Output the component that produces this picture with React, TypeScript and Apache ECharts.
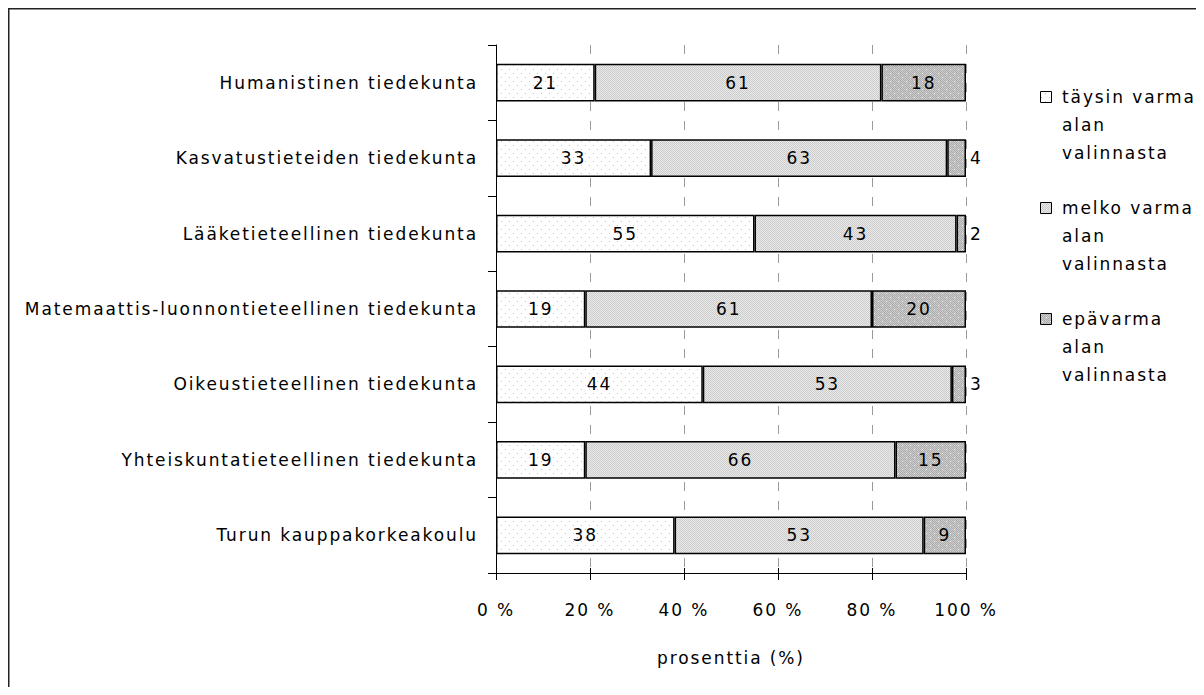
import React, { useEffect, useRef } from "react";
import * as echarts from "echarts";

const categories = [
  "Humanistinen tiedekunta",
  "Kasvatustieteiden tiedekunta",
  "Lääketieteellinen tiedekunta",
  "Matemaattis-luonnontieteellinen tiedekunta",
  "Oikeustieteellinen tiedekunta",
  "Yhteiskuntatieteellinen tiedekunta",
  "Turun kauppakorkeakoulu",
];
const seriesNames = [
  "täysin varma alan valinnasta",
  "melko varma alan valinnasta",
  "epävarma alan valinnasta",
];
const legendLines = [
  "täysin varma\nalan\nvalinnasta",
  "melko varma\nalan\nvalinnasta",
  "epävarma\nalan\nvalinnasta",
];
const taysinVarma = [21, 33, 55, 19, 44, 19, 38];
const melkoVarma = [61, 63, 43, 61, 53, 66, 53];
const epavarma = [18, 4, 2, 20, 3, 15, 9];
const xTicks = [0, 20, 40, 60, 80, 100];
const xAxisName = "prosenttia (%)";

const FONT = "DejaVu Sans";
const FS = 17;
const LETTER_SPACING = "1.9px";

function makePattern(kind: number): HTMLCanvasElement {
  const c = document.createElement("canvas");
  const s = 8;
  c.width = s;
  c.height = s;
  const g = c.getContext("2d")!;
  if (kind === 0) {
    g.fillStyle = "#ffffff";
    g.fillRect(0, 0, s, s);
    g.fillStyle = "#c4c4c4";
    g.fillRect(1, 1, 1, 1);
    g.fillRect(5, 5, 1, 1);
  } else if (kind === 1) {
    for (let y = 0; y < s; y++)
      for (let x = 0; x < s; x++) {
        g.fillStyle = (x + y) % 2 === 0 ? "#cdcdcd" : "#e8e8e8";
        g.fillRect(x, y, 1, 1);
      }
  } else {
    for (let y = 0; y < s; y++)
      for (let x = 0; x < s; x++) {
        g.fillStyle = (x + y) % 2 === 0 ? "#adadad" : "#cbcbcb";
        g.fillRect(x, y, 1, 1);
      }
    g.fillStyle = "#ffffff";
    g.fillRect(2, 1, 1, 1);
    g.fillRect(6, 5, 1, 1);
  }
  return c;
}

export default function App() {
  const ref = useRef<HTMLDivElement>(null);
  useEffect(() => {
    if (!ref.current) return;
    const el = ref.current;
    const chart = echarts.init(el, undefined, { renderer: "svg" });
    const applySpacing = () => {
      el.querySelectorAll("text").forEach((t) => {
        t.setAttribute("letter-spacing", LETTER_SPACING);
      });
    };
    chart.on("finished", applySpacing);
    const fills = [0, 1, 2].map((k) => ({
      image: makePattern(k),
      repeat: "repeat",
    }));
    const allData = [taysinVarma, melkoVarma, epavarma];
    const series = allData.map((arr, si) => ({
      name: seriesNames[si],
      type: "bar",
      stack: "total",
      barWidth: "50%",
      itemStyle: {
        color: fills[si] as any,
        borderColor: "#000",
        borderWidth: 1.5,
      },
      label: {
        show: true,
        position: "inside",
        color: "#000",
        fontFamily: FONT,
        fontSize: FS,
      },
      data: arr.map((v) =>
        si === 2 && v < 5
          ? { value: v, label: { position: "right", distance: 4 } }
          : v
      ),
    }));

    const legendGraphics: any[] = [];
    const firstLineY = [89, 200, 311];
    legendLines.forEach((t, i) => {
      legendGraphics.push({
        type: "rect",
        shape: { x: 1032.5, y: firstLineY[i] - 5.5, width: 11, height: 11 },
        style: { fill: fills[i] as any, stroke: "#000", lineWidth: 1 },
      });
      legendGraphics.push({
        type: "text",
        x: 1054,
        y: firstLineY[i] - 14,
        style: {
          text: t,
          font: `${FS}px "${FONT}"`,
          fill: "#000",
          lineHeight: 28,
          verticalAlign: "top",
          align: "left",
        },
      });
    });

    chart.setOption({
      animation: false,
      backgroundColor: "#fff",
      textStyle: { fontFamily: FONT },
      grid: { left: 488, top: 37, right: 230, bottom: 114, containLabel: false },
      xAxis: [
        {
          type: "value",
          min: xTicks[0],
          max: xTicks[xTicks.length - 1],
          interval: 20,
          name: xAxisName,
          nameLocation: "middle",
          nameGap: 76,
          nameTextStyle: { color: "#000", fontFamily: FONT, fontSize: FS },
          axisLine: { show: true, lineStyle: { color: "#000", width: 1 } },
          axisTick: { show: true, length: 7, lineStyle: { color: "#000" } },
          axisLabel: {
            color: "#000",
            fontFamily: FONT,
            fontSize: FS,
            margin: 28,
            formatter: (v: number) => `${v} %`,
          },
          splitLine: {
            show: true,
            lineStyle: { color: "#9a9a9a", type: [9, 10], width: 1 },
          },
        },
        {
          type: "value",
          position: "bottom",
          min: 0,
          max: 100,
          interval: 20,
          axisLine: { show: false },
          axisTick: { show: true, inside: true, length: 5, lineStyle: { color: "#000" } },
          axisLabel: { show: false },
          splitLine: { show: false },
        },
      ],
      yAxis: {
        type: "category",
        inverse: true,
        data: categories,
        axisLine: { show: true, lineStyle: { color: "#000", width: 1 } },
        axisTick: { show: true, length: 8, lineStyle: { color: "#000" } },
        axisLabel: { color: "#000", fontFamily: FONT, fontSize: FS, margin: 18 },
      },
      series,
      graphic: [
        {
          type: "rect",
          shape: { x: 0.75, y: 0.75, width: 3000, height: 3000 },
          style: { fill: "none", stroke: "#222", lineWidth: 1.5 },
          silent: true,
          z: 100,
        },
        ...legendGraphics,
      ],
    });
    applySpacing();
    const timer = window.setTimeout(applySpacing, 50);
    return () => {
      window.clearTimeout(timer);
      chart.dispose();
    };
  }, []);
  return (
    <div
      ref={ref}
      style={{ width: 1188, height: 679, overflow: "hidden" }}
    />
  );
}
